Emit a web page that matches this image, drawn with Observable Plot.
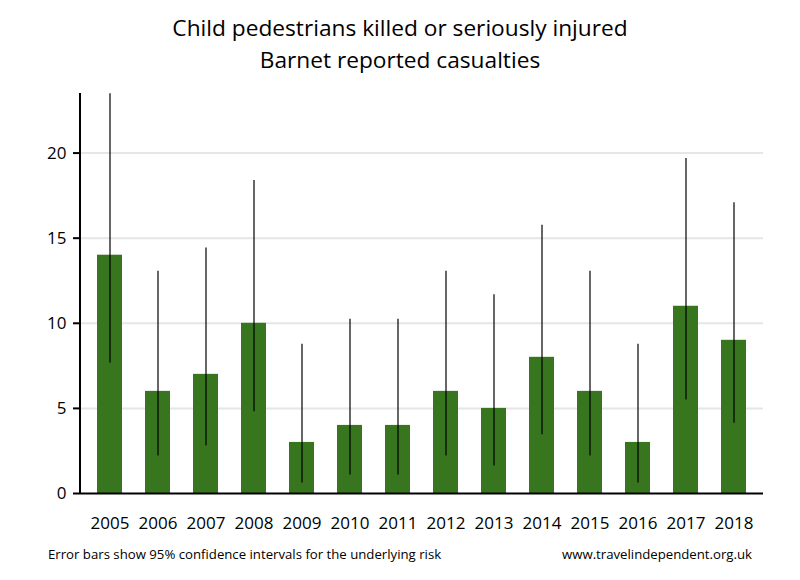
<!DOCTYPE html>
<html>
<head>
<meta charset="utf-8">
<script src="https://cdn.jsdelivr.net/npm/d3@7"></script>
<script src="https://cdn.jsdelivr.net/npm/@observablehq/plot@0.6"></script>
<style>
  body { margin: 0; background: #fff; font-family: "Open Sans", sans-serif; }
  #wrap { position: relative; width: 800px; height: 580px; overflow: hidden; }
  .title { position: absolute; left: 0; width: 800px; text-align: center; font-size: 22.7px; color: #000; line-height: 1; }
  #chart { position: absolute; left: 0; top: 80px; }
  .foot { position: absolute; font-size: 13.2px; color: #000; line-height: 1; }
</style>
</head>
<body>
<div id="wrap">
  <div class="title" style="top:17px">Child pedestrians killed or seriously injured</div>
  <div class="title" style="top:49px">Barnet reported casualties</div>
  <div id="chart"></div>
  <div class="foot" style="left:48px; top:548px">Error bars show 95% confidence intervals for the underlying risk</div>
  <div class="foot" style="right:48px; top:548px">www.travelindependent.org.uk</div>
</div>
<script>
const years  = ["2005","2006","2007","2008","2009","2010","2011","2012","2013","2014","2015","2016","2017","2018"];
const values = [14, 6, 7, 10, 3, 4, 4, 6, 5, 8, 6, 3, 11, 9];
const lower  = [7.65, 2.20, 2.81, 4.80, 0.62, 1.09, 1.09, 2.20, 1.62, 3.45, 2.20, 0.62, 5.49, 4.12];
const upper  = [23.49, 13.06, 14.42, 18.39, 8.77, 10.24, 10.24, 13.06, 11.67, 15.76, 13.06, 8.77, 19.68, 17.08];
const yTicks = [0, 5, 10, 15, 20];

const data = years.map((y, i) => ({year: y, value: values[i], lo: lower[i], hi: upper[i]}));

const chart = Plot.plot({
  width: 800,
  height: 460,
  marginLeft: 80,
  marginRight: 37,
  marginTop: 13,
  marginBottom: 47,
  style: {fontFamily: "Open Sans, sans-serif", fontSize: "17px", color: "#000", background: "#fff"},
  x: {domain: years, paddingInner: 0.48, paddingOuter: 0.35, label: null},
  y: {domain: [0, 23.5], label: null},
  marks: [
    Plot.ruleY(yTicks.filter(d => d > 0), {stroke: "#e6e6e6", strokeWidth: 2}),
    Plot.barY(data, {x: "year", y: "value", fill: "#37761f"}),
    Plot.ruleX(data, {x: "year", y1: "lo", y2: "hi", stroke: "#000", strokeWidth: 1.2}),
    Plot.ruleY([0], {stroke: "#000", strokeWidth: 2}),
    Plot.axisY({ticks: yTicks, tickSize: 7, tickPadding: 7, strokeWidth: 2, label: null}),
    Plot.axisX({tickSize: 0, tickPadding: 23, label: null})
  ]
});

// y-axis spine drawn from the plot's own y scale
const ys = chart.scale("y");
d3.select(chart).append("line")
  .attr("x1", 80).attr("x2", 80)
  .attr("y1", ys.apply(ys.domain[1])).attr("y2", ys.apply(0) + 1)
  .attr("stroke", "#000").attr("stroke-width", 2);

document.getElementById("chart").appendChild(chart);
</script>
</body>
</html>
